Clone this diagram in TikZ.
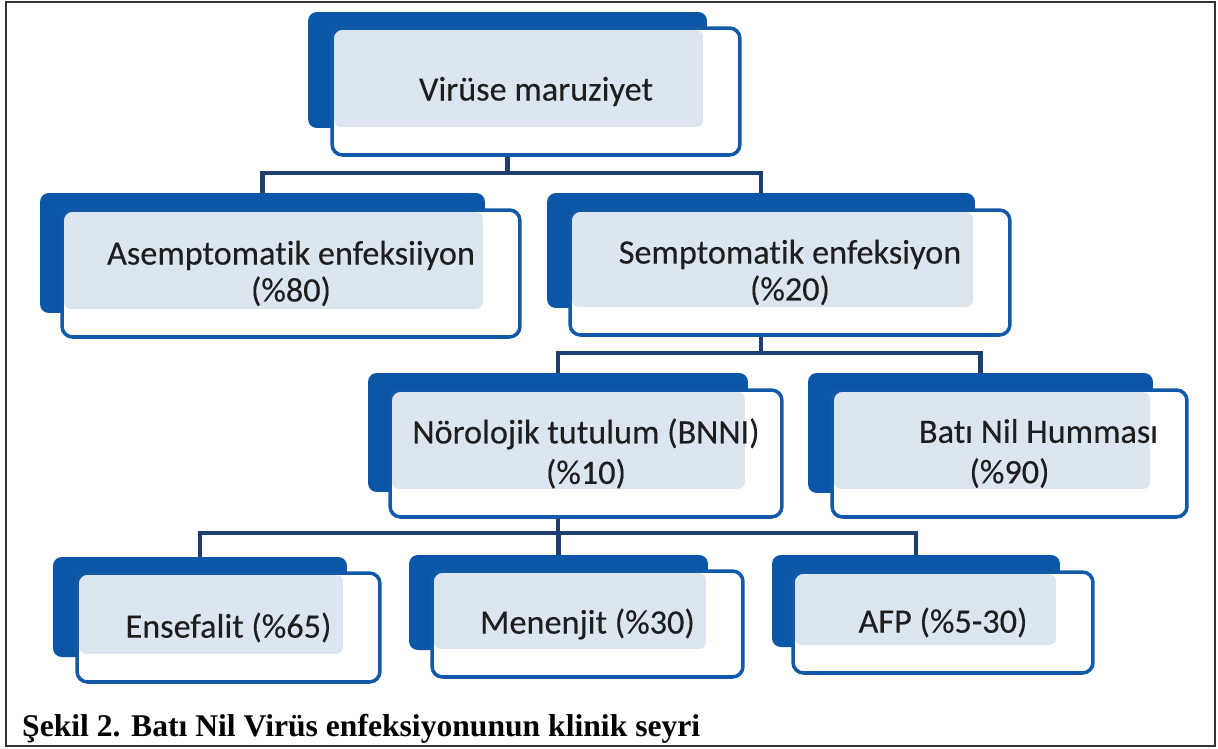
\documentclass[tikz,border=0pt]{standalone}
\usepackage{fontspec}
\setmainfont{Carlito}[Ligatures=NoCommon, FakeBold=0.25]
\newfontfamily\altyazi{Liberation Serif}
\usetikzlibrary{backgrounds}

\definecolor{koyumavi}{HTML}{0B56A7}
\definecolor{kenarmavi}{HTML}{1259A8}
\definecolor{acikmavi}{HTML}{DCE6F1}
\definecolor{hatrengi}{HTML}{1D3E6E}
\definecolor{yazirengi}{HTML}{1E1E1E}

\tikzset{
  arkakutu/.style={fill=koyumavi, rounded corners=5pt},
  onkutu/.style={draw=kenarmavi, line width=2pt, fill=white, rounded corners=6pt,
    align=center, text=yazirengi, font=\fontsize{19.5}{21}\selectfont,
    path picture={\fill[acikmavi, rounded corners=4pt]
      ([shift={(2,2)}]path picture bounding box.north west) rectangle
      ([shift={(-37,-28)}]path picture bounding box.south east);}},
  baglanti/.style={draw=hatrengi, line width=2.4pt},
}

\begin{document}
\begin{tikzpicture}[x=0.02cm, y=-0.02cm]
  \useasboundingbox (0,0) rectangle (1218,748);
  \draw[gray!40!black, line width=0.8pt] (6,2) rectangle (1215,746);

  \coordinate (d1) at (0,173);
  \coordinate (d2) at (0,353);
  \coordinate (d3) at (0,533);

  % birinci satir
  \node[arkakutu, minimum width=7.98cm, minimum height=2.32cm] (virus) at (507.5,70) {};
  \node[onkutu, minimum width=8.16cm, minimum height=2.54cm] (virusk) at (536,91.5) {Virüse maruziyet};

  % ikinci satir
  \node[arkakutu, minimum width=8.90cm, minimum height=2.40cm] (asem) at (262.5,253) {};
  \node[onkutu, minimum width=9.16cm, minimum height=2.54cm] (asemk) at (291,273.5) {Asemptomatik enfeksiiyon\\(\%80)};
  \node[arkakutu, minimum width=8.56cm, minimum height=2.30cm] (semp) at (761,250.5) {};
  \node[onkutu, minimum width=8.80cm, minimum height=2.50cm] (sempk) at (790,272.5) {Semptomatik enfeksiyon\\(\%20)};

  % ucuncu satir
  \node[arkakutu, minimum width=7.60cm, minimum height=2.38cm] (noro) at (558,432.5) {};
  \node[onkutu, minimum width=7.84cm, minimum height=2.54cm, font=\fontsize{19.5}{23}\selectfont] (norok) at (586,453.5) {Nörolojik tutulum (BNNI)\\(\%10)};
  \node[arkakutu, minimum width=6.90cm, minimum height=2.40cm] (bati) at (980.5,433) {};
  \node[onkutu, minimum width=7.10cm, minimum height=2.54cm, font=\fontsize{19.5}{23}\selectfont] (batik) at (1009.5,453.5) {\hspace*{1.7em}Batı Nil Humması\\(\%90)};

  % dorduncu satir
  \node[arkakutu, minimum width=5.88cm, minimum height=2.00cm] (ense) at (200,607) {};
  \node[onkutu, minimum width=6.06cm, minimum height=2.18cm] (ensek) at (228.5,627.5) {Ensefalit (\%65)};
  \node[arkakutu, minimum width=5.98cm, minimum height=1.90cm] (mene) at (558.5,602.5) {};
  \node[onkutu, minimum width=6.22cm, minimum height=2.12cm] (menek) at (587.5,624) {Menenjit (\%30)};
  \node[arkakutu, minimum width=5.76cm, minimum height=1.84cm] (afp) at (916,601) {};
  \node[onkutu, minimum width=6.00cm, minimum height=2.02cm] (afpk) at (943,622.5) {AFP (\%5-30)};

  \begin{scope}[on background layer]
    \draw[baglanti] (virus.south) -- (virus.south |- d1);
    \draw[baglanti] (asem.north) |- (semp.north |- d1) -- (semp.north);
    \draw[baglanti] (semp.south) -- (semp.south |- d2);
    \draw[baglanti] (noro.north) |- (bati.north |- d2) -- (bati.north);
    \draw[baglanti] (noro.south) -- (noro.south |- d3);
    \draw[baglanti] (ense.north) |- (afp.north |- d3) -- (afp.north);
    \draw[baglanti] (mene.north) -- (mene.north |- d3);
  \end{scope}

  \node[anchor=base west, font=\altyazi\bfseries\fontsize{18}{20}\selectfont] (sekil) at (16,736) {Şekil 2. Batı Nil Virüs enfeksiyonunun klinik seyri};
\end{tikzpicture}
\end{document}
